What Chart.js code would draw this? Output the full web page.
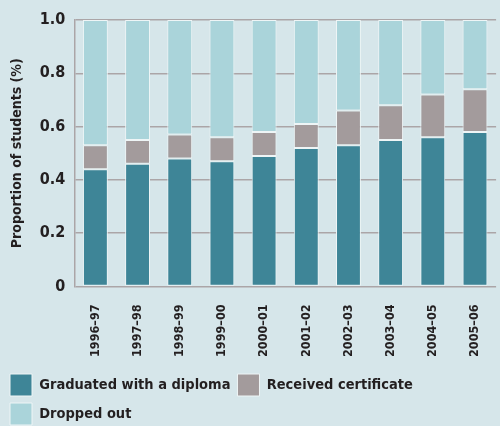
<!DOCTYPE html>
<html lang="en">

<head>
    <meta charset="UTF-8">
    <title>Student outcomes</title>
    <style>
        html, body {
            margin: 0;
            padding: 0;
            background: #d6e6ea;
        }
        .blocker {
            width: 500px;
            height: 426px;
        }
    </style>
    <script src="https://cdn.jsdelivr.net/npm/chart.js"></script>
</head>

<body>
    <div class="blocker">
        <canvas id="myChart"></canvas>
    </div>

    <script>
        const years = ['1996–97', '1997–98', '1998–99', '1999–00', '2000–01',
            '2001–02', '2002–03', '2003–04', '2004–05', '2005–06'];
        const diploma = [0.44, 0.46, 0.48, 0.47, 0.49, 0.52, 0.53, 0.55, 0.56, 0.58];
        const certificate = [0.09, 0.09, 0.09, 0.09, 0.09, 0.09, 0.13, 0.13, 0.16, 0.16];
        const droppedOut = [0.47, 0.45, 0.43, 0.44, 0.42, 0.39, 0.34, 0.32, 0.28, 0.26];
        const yTicks = [0, 0.2, 0.4, 0.6, 0.8, 1.0];

        const font = "'DejaVu Sans Condensed', 'Liberation Sans Narrow', sans-serif";
        const ink = '#231f20';
        const gridGrey = '#aba5a7';

        const ctx = document.getElementById('myChart');

        new Chart(ctx, {
            type: 'bar',
            data: {
                labels: years,
                datasets: [{
                    label: 'Graduated with a diploma',
                    data: diploma,
                    backgroundColor: '#3e8597'
                }, {
                    label: 'Received certificate',
                    data: certificate,
                    backgroundColor: '#a39b9c'
                }, {
                    label: 'Dropped out',
                    data: droppedOut,
                    backgroundColor: '#aad4da'
                }]
            },
            options: {
                responsive: true,
                maintainAspectRatio: false,
                animation: false,
                datasets: {
                    bar: {
                        categoryPercentage: 1,
                        barPercentage: 0.59,
                        borderColor: '#eef5f6',
                        borderWidth: 1,
                        borderSkipped: false
                    }
                },
                layout: {
                    padding: { top: 20, right: 0, left: 3, bottom: -9 }
                },
                plugins: {
                    tooltip: { enabled: false },
                    legend: {
                        position: 'bottom',
                        align: 'start',
                        labels: {
                            boxWidth: 22,
                            boxHeight: 22,
                            padding: 7,
                            color: ink,
                            font: { family: font, size: 14.5, weight: 'bold' }
                        }
                    }
                },
                scales: {
                    x: {
                        stacked: true,
                        grid: { display: false },
                        border: { display: false },
                        ticks: {
                            color: ink,
                            minRotation: 90,
                            maxRotation: 90,
                            padding: 10,
                            font: { family: font, size: 12.5, weight: 'bold' }
                        }
                    },
                    y: {
                        stacked: true,
                        min: 0,
                        max: 1,
                        afterBuildTicks: axis => {
                            axis.ticks = yTicks.map(v => ({ value: v }));
                        },
                        grid: {
                            color: gridGrey,
                            lineWidth: 1.5,
                            drawTicks: false
                        },
                        border: { display: true, color: gridGrey, width: 1.5 },
                        title: {
                            display: true,
                            text: 'Proportion of students (%)',
                            color: ink,
                            padding: { top: 6, bottom: 5 },
                            font: { family: font, size: 14, weight: 'bold' }
                        },
                        ticks: {
                            color: ink,
                            padding: 9,
                            callback: v => v === 0 ? '0' : v.toFixed(1),
                            font: { family: font, size: 16, weight: 'bold' }
                        }
                    }
                }
            }
        });
    </script>
</body>

</html>
